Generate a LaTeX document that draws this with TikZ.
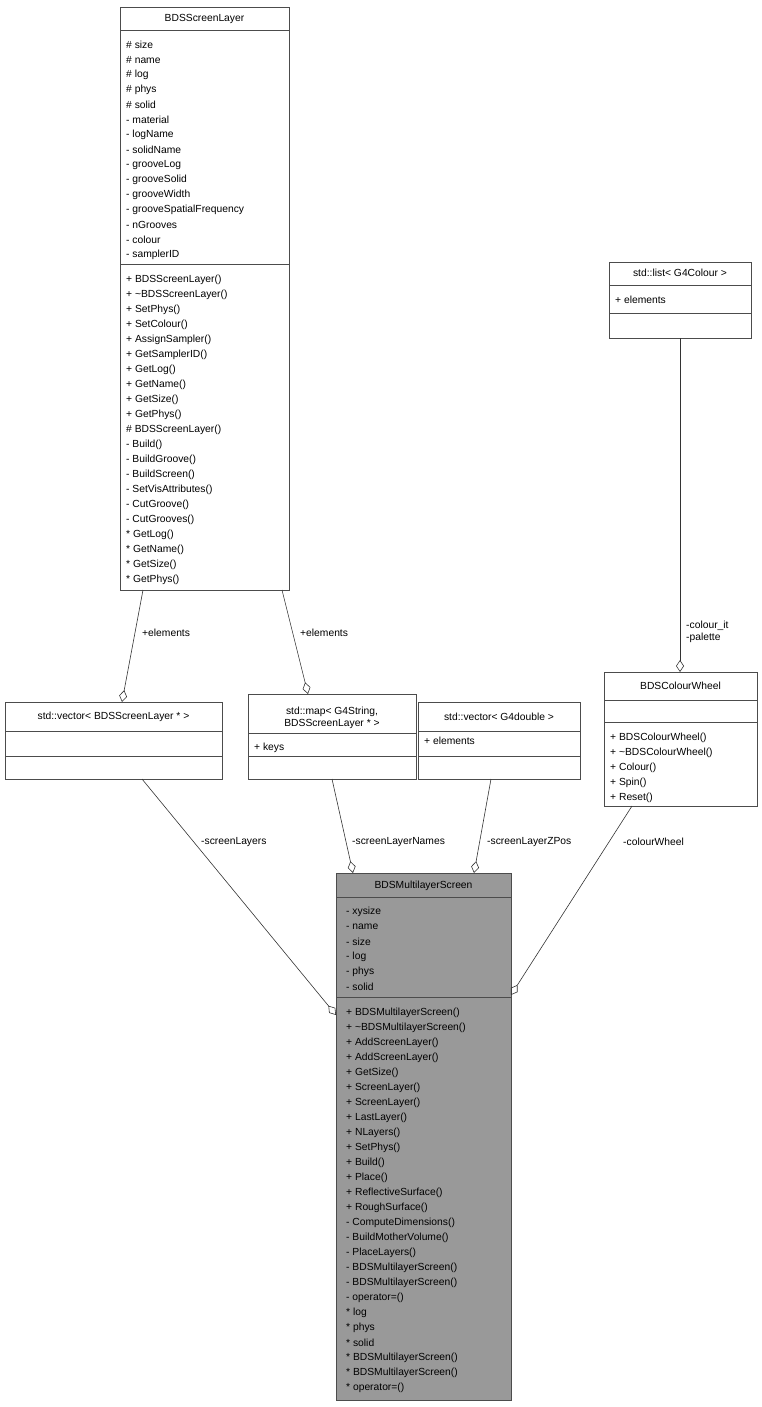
\documentclass[tikz,border=0pt]{standalone}
\usepackage{fontspec}
\setmainfont{Liberation Sans}
\usetikzlibrary{arrows.meta}
\begin{document}
\begin{tikzpicture}[x=1pt,y=-1pt,
  font=\fontsize{10.3}{12}\selectfont,
  box/.style={draw=black!70,line width=0.6pt,fill=white},
  sep/.style={draw=black!70,line width=0.6pt},
  txt/.style={anchor=west,inner sep=0pt},
  ttl/.style={anchor=center,inner sep=0pt,align=center},
  lbl/.style={inner sep=0pt,align=left},
  rel/.style={draw=black!80,line width=0.6pt,-{Diamond[open,length=12pt,width=8pt]}}]
\useasboundingbox (0,0) rectangle (762,1407);
% BDSScreenLayer
\draw[box] (120,7) rectangle (289,590);
\draw[sep] (120,30)--(289,30) (120,264)--(289,264);
\node[ttl] (slt) at (204.5,18.5) {BDSScreenLayer};
\foreach \t [count=\i from 0] in {\# size,\# name,\# log,\# phys,\# solid,- material,- logName,- solidName,- grooveLog,- grooveSolid,- grooveWidth,- grooveSpatialFrequency,- nGrooves,- colour,- samplerID}
  \node[txt] at (126,45+15*\i) {\t};
\foreach \t [count=\i from 0] in {+ BDSScreenLayer(),+ \textasciitilde BDSScreenLayer(),+ SetPhys(),+ SetColour(),+ AssignSampler(),+ GetSamplerID(),+ GetLog(),+ GetName(),+ GetSize(),+ GetPhys(),\# BDSScreenLayer(),- Build(),- BuildGroove(),- BuildScreen(),- SetVisAttributes(),- CutGroove(),- CutGrooves(),* GetLog(),* GetName(),* GetSize(),* GetPhys()}
  \node[txt] at (126,280+15*\i) {\t};
% std::list
\draw[box] (609,262) rectangle (751,338);
\draw[sep] (609,285)--(751,285) (609,313)--(751,313);
\node[ttl] (lst) at (680,273) {std::list< G4Colour >};
\node[txt] at (615,300) {+ elements};
% vector BDSScreenLayer
\draw[box] (5,702) rectangle (222,779);
\draw[sep] (5,731)--(222,731) (5,756)--(222,756);
\node[ttl] (vst) at (113.5,717) {std::vector< BDSScreenLayer * >};
% map
\draw[box] (248,694) rectangle (416,779);
\draw[sep] (248,733)--(416,733) (248,756)--(416,756);
\node[ttl] (mpt) at (332,717.5) {std::map< G4String,\\BDSScreenLayer * >};
\node[txt] at (254,748) {+ keys};
% vector G4double
\draw[box] (418,702) rectangle (580,779);
\draw[sep] (418,731)--(580,731) (418,756)--(580,756);
\node[ttl] (vdt) at (499,717) {std::vector< G4double >};
\node[txt] at (424,741) {+ elements};
% ColourWheel
\draw[box] (604,672) rectangle (757,806);
\draw[sep] (604,700)--(757,700) (604,722)--(757,722);
\node[ttl] (cwt) at (680.5,686) {BDSColourWheel};
\foreach \t [count=\i from 0] in {+ BDSColourWheel(),+ \textasciitilde BDSColourWheel(),+ Colour(),+ Spin(),+ Reset()}
  \node[txt] at (610,738+15*\i) {\t};
% Multilayer
\draw[box,fill=black!40] (336,873) rectangle (511,1400);
\draw[sep] (336,897)--(511,897) (336,997)--(511,997);
\node[ttl] (mlt) at (423.5,886) {BDSMultilayerScreen};
\foreach \t [count=\i from 0] in {- xysize,- name,- size,- log,- phys,- solid}
  \node[txt] at (346,912+15*\i) {\t};
\foreach \t [count=\i from 0] in {+ BDSMultilayerScreen(),+ \textasciitilde BDSMultilayerScreen(),+ AddScreenLayer(),+ AddScreenLayer(),+ GetSize(),+ ScreenLayer(),+ ScreenLayer(),+ LastLayer(),+ NLayers(),+ SetPhys(),+ Build(),+ Place(),+ ReflectiveSurface(),+ RoughSurface(),- ComputeDimensions(),- BuildMotherVolume(),- PlaceLayers(),- BDSMultilayerScreen(),- BDSMultilayerScreen(),- operator=(),* log,* phys,* solid,* BDSMultilayerScreen(),* BDSMultilayerScreen(),* operator=()}
  \node[txt] at (346,1013+15*\i) {\t};
% edges
\coordinate (a1) at (143,590); \coordinate (b1) at (122,702);
\coordinate (a2) at (282,590); \coordinate (b2) at (308,694);
\coordinate (a3) at (680,338); \coordinate (b3) at (680,672);
\coordinate (a4) at (142,779); \coordinate (b4) at (336,1015);
\coordinate (a5) at (332,779); \coordinate (b5) at (353,873);
\coordinate (a6) at (491,779); \coordinate (b6) at (474,873);
\coordinate (a7) at (632,806); \coordinate (b7) at (511,995);
\draw[rel] (a1)--(b1); \draw[rel] (a2)--(b2); \draw[rel] (a3)--(b3);
\draw[rel] (a4)--(b4); \draw[rel] (a5)--(b5); \draw[rel] (a6)--(b6); \draw[rel] (a7)--(b7);
\node[lbl,anchor=west] (l1) at (142,633) {+elements};
\node[lbl,anchor=west] (l2) at (300,633) {+elements};
\node[lbl,anchor=west] (l3) at (686,632) {-colour\_it\\-palette};
\node[lbl,anchor=west] (l4) at (201,842) {-screenLayers};
\node[lbl,anchor=west] (l5) at (352,842) {-screenLayerNames};
\node[lbl,anchor=west] (l6) at (487,842) {-screenLayerZPos};
\node[lbl,anchor=west] (l7) at (623,842) {-colourWheel};
\end{tikzpicture}
\end{document}
